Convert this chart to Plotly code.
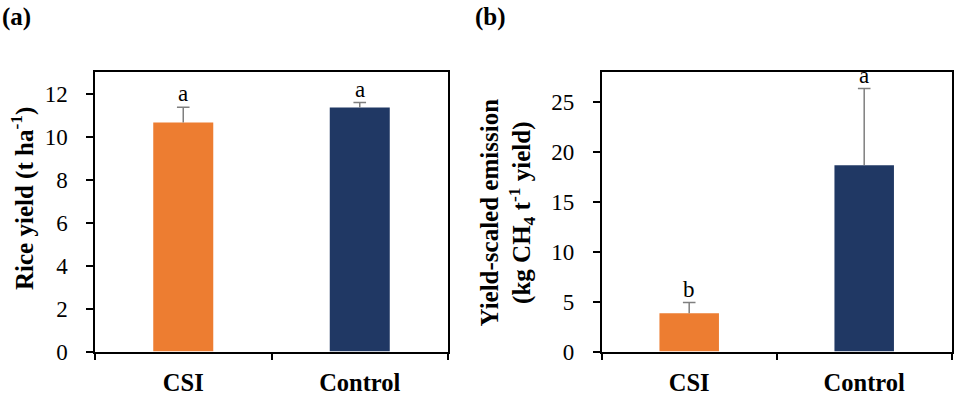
import plotly.graph_objects as go

categories = ["CSI", "Control"]
yield_vals = [10.65, 11.35]
yield_err = [0.71, 0.23]
yield_letters = ["a", "a"]
emis_vals = [3.84, 18.67]
emis_err = [1.06, 7.67]
emis_letters = ["b", "a"]
colors = ["#ED7D31", "#203864"]

SERIF = "Liberation Serif"
ERR_COLOR = "#7F7F7F"

fig = go.Figure()
for vals, errs, xa, ya in [(yield_vals, yield_err, "x", "y"), (emis_vals, emis_err, "x2", "y2")]:
    fig.add_trace(go.Bar(
        x=categories, y=vals, xaxis=xa, yaxis=ya,
        marker=dict(color=colors, line=dict(width=0)),
        width=0.34, showlegend=False, hoverinfo="x+y",
    ))
    # error bars (upper only, no lower cap)
    for c, v, e in zip(categories, vals, errs):
        fig.add_trace(go.Scatter(
            x=[c, c], y=[v, v + e], xaxis=xa, yaxis=ya, mode="lines",
            line=dict(color=ERR_COLOR, width=1.5), showlegend=False, hoverinfo="skip",
        ))
        fig.add_trace(go.Scatter(
            x=[c], y=[v + e], xaxis=xa, yaxis=ya, mode="markers",
            marker=dict(symbol="line-ew", size=9, line=dict(color=ERR_COLOR, width=1.5)),
            showlegend=False, hoverinfo="skip",
        ))

annotations = []
for vals, errs, letters, xa, ya in [(yield_vals, yield_err, yield_letters, "x", "y"),
                                    (emis_vals, emis_err, emis_letters, "x2", "y2")]:
    for c, v, e, l in zip(categories, vals, errs, letters):
        annotations.append(dict(x=c, y=v + e, xref=xa, yref=ya, text=l, showarrow=False,
                                yanchor="bottom", yshift=-1,
                                font=dict(family=SERIF, size=23, color="black")))

annotations += [
    dict(x=22 / 969, y=1 - 199 / 399, xref="paper", yref="paper", textangle=-90,
         text="<b>Rice yield (t ha<sup>-1</sup>)</b>", showarrow=False,
         xanchor="center", yanchor="middle", font=dict(family=SERIF, size=25, color="black")),
    dict(x=507.5 / 969, y=1 - 213 / 399, xref="paper", yref="paper", textangle=-90,
         text="<b>Yield-scaled emission<br>(kg CH<sub>4</sub> t<sup>-1</sup> yield)</b>", showarrow=False,
         xanchor="center", yanchor="middle", font=dict(family=SERIF, size=25, color="black")),
    dict(x=0, y=1 - 17 / 399, xref="paper", yref="paper", text="<b>(a)</b>", showarrow=False,
         xanchor="left", yanchor="middle", font=dict(family=SERIF, size=25, color="black")),
    dict(x=473 / 969, y=1 - 17 / 399, xref="paper", yref="paper", text="<b>(b)</b>", showarrow=False,
         xanchor="left", yanchor="middle", font=dict(family=SERIF, size=25, color="black")),
]

axis_common = dict(showline=True, linecolor="black", linewidth=1.5, mirror=True,
                   showgrid=False, zeroline=False, ticks="outside", ticklen=7,
                   tickwidth=1.5, tickcolor="black")
xcommon = dict(axis_common, type="category", tickson="boundaries", ticklabelstandoff=8,
               tickfont=dict(family=SERIF, size=24.5, color="black", weight="bold"))
ycommon = dict(axis_common, ticklabelstandoff=14,
               tickfont=dict(family=SERIF, size=23, color="black"))

fig.update_layout(
    width=969, height=399, autosize=False,
    margin=dict(l=0, r=0, t=0, b=0, autoexpand=False),
    paper_bgcolor="white", plot_bgcolor="white",
    xaxis=dict(xcommon, domain=[95 / 969, 448 / 969], anchor="y"),
    yaxis=dict(ycommon, domain=[1 - 351.5 / 399, 1 - 72 / 399], range=[0, 13], dtick=2, anchor="x"),
    xaxis2=dict(xcommon, domain=[601.7 / 969, 951.7 / 969], anchor="y2"),
    yaxis2=dict(ycommon, domain=[1 - 351.5 / 399, 1 - 72 / 399], range=[0, 28], dtick=5, anchor="x2"),
    annotations=annotations,
)

fig.write_html("out.html", config={"displayModeBar": False, "responsive": False},
               post_script="document.body.style.margin='0';document.body.style.overflow='hidden';")
